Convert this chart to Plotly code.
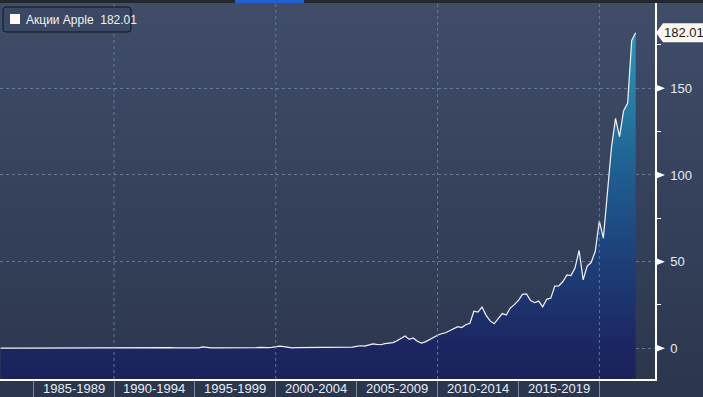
import base64
import pandas as pd
import plotly.graph_objects as go

# ---------------- data ----------------
SERIES_NAME = "Акции Apple"
START_QUARTER_END = "1982-12-31"
prices = [
    0.11,
    0.19, 0.26, 0.13, 0.12,   # 1983
    0.12, 0.11, 0.12, 0.13,   # 1984
    0.11, 0.08, 0.07, 0.10,   # 1985
    0.11, 0.15, 0.16, 0.18,   # 1986
    0.28, 0.37, 0.51, 0.37,   # 1987
    0.39, 0.42, 0.36, 0.36,   # 1988
    0.31, 0.37, 0.41, 0.31,   # 1989
    0.36, 0.38, 0.26, 0.38,   # 1990
    0.56, 0.43, 0.42, 0.50,   # 1991
    0.57, 0.49, 0.40, 0.53,   # 1992
    0.50, 0.37, 0.22, 0.26,   # 1993
    0.32, 0.24, 0.31, 0.35,   # 1994
    0.31, 0.80, 0.33, 0.28,   # 1995
    0.22, 0.19, 0.20, 0.19,   # 1996
    0.16, 0.13, 0.19, 0.12,   # 1997
    0.24, 0.26, 0.34, 0.60,   # 1998
    0.32, 0.41, 0.59, 0.92,   # 1999
    1.21, 0.94, 0.46, 0.27,   # 2000
    0.39, 0.42, 0.28, 0.39,   # 2001
    0.42, 0.32, 0.26, 0.26,   # 2002
    0.25, 0.34, 0.37, 0.38,   # 2003
    0.48, 0.58, 0.69, 1.15,   # 2004
    1.49, 1.31, 1.91, 2.57,   # 2005
    2.24, 2.05, 2.75, 3.03,   # 2006
    3.32, 4.36, 5.48, 7.07,   # 2007
    5.13, 5.98, 4.06, 3.05,   # 2008
    3.75, 5.09, 6.62, 7.53,   # 2009
    8.39, 8.98, 10.13, 11.52,  # 2010
    12.45, 11.99, 13.62, 14.46,  # 2011
    21.41, 20.86, 23.83, 19.01,  # 2012
    15.81, 14.16, 17.03, 20.04,  # 2013
    19.17, 23.23, 25.19, 27.59,  # 2014
    31.11, 31.36, 27.58, 26.32,  # 2015
    27.25, 23.90, 28.26, 28.96,  # 2016
    35.92, 36.01, 38.53, 42.31,  # 2017
    41.95, 46.28, 56.44, 39.44,  # 2018
    47.49, 49.48, 55.99, 73.41,  # 2019
    63.57, 91.20, 115.81, 132.69,  # 2020
    122.15, 136.96, 141.50, 177.57,  # 2021
    182.01,                    # 2022
]
period_labels = ["1985-1989", "1990-1994", "1995-1999", "2000-2004",
                 "2005-2009", "2010-2014", "2015-2019"]
period_starts = ["1985-01-01", "1990-01-01", "1995-01-01", "2000-01-01",
                 "2005-01-01", "2010-01-01", "2015-01-01", "2020-01-01"]
grid_dates = ["1990-01-01", "2000-01-01", "2010-01-01", "2020-01-01"]
y_ticks = [0, 50, 100, 150]
X_RANGE = ["1982-12-15", "2023-06-10"]
Y_RANGE = [-17.7, 199.2]

# ---------------- derived ----------------
try:
    dates = pd.date_range(START_QUARTER_END, periods=len(prices), freq="QE")
except Exception:
    dates = pd.date_range(START_QUARTER_END, periods=len(prices), freq="Q")
ps = pd.to_datetime(period_starts)
period_mids = [ps[i] + (ps[i + 1] - ps[i]) / 2 for i in range(len(period_labels))]
last_val = prices[-1]

W, H = 703, 397
ML, MR, MT, MB = 0, 48, 3, 18
PW, PH = W - ML - MR, H - MT - MB

TEXT = "#e6ecf4"
GRID = "rgba(115,135,165,0.8)"
FONT = "Liberation Sans, Arial, sans-serif"

fig = go.Figure()
fig.add_trace(go.Scatter(x=dates, y=[Y_RANGE[0]] * len(dates), mode="lines",
                         line=dict(width=0), hoverinfo="skip", showlegend=False))
fig.add_trace(go.Scatter(
    x=dates, y=prices, mode="lines", name=SERIES_NAME,
    line=dict(color="#f4f4f4", width=1.2),
    fill="tonexty",
    fillgradient=dict(type="vertical", start=Y_RANGE[0], stop=max(prices),
                      colorscale=[[0.0, "#1b215a"], [0.09, "#1c2661"],
                                  [0.34, "#1d3f79"], [0.59, "#1f5d90"],
                                  [0.84, "#2583a8"], [1.0, "#2a98b8"]]),
    showlegend=False,
))

# background gradient (svg)
svg = ('<svg xmlns="http://www.w3.org/2000/svg" width="100" height="100" preserveAspectRatio="none">'
       '<defs><linearGradient id="g" x1="0" y1="0" x2="0" y2="1">'
       '<stop offset="0" stop-color="#404d69"/><stop offset="1" stop-color="#2b364d"/>'
       '</linearGradient></defs><rect width="100" height="100" fill="url(#g)"/></svg>')
src = "data:image/svg+xml;base64," + base64.b64encode(svg.encode()).decode()

shapes = []
# top strip highlight
shapes.append(dict(type="rect", xref="paper", yref="paper", xsizemode="pixel", ysizemode="pixel",
                   xanchor=0, yanchor=1, x0=235, x1=304, y0=0, y1=MT,
                   fillcolor="#1f5fd0", line=dict(width=0), layer="above"))
# vertical grid
for d in grid_dates:
    shapes.append(dict(type="line", xref="x", yref="paper", x0=d, x1=d, y0=0, y1=1,
                       line=dict(color=GRID, width=1, dash="3px,3px"), layer="above"))
# tick triangles
for t in y_ticks:
    shapes.append(dict(type="path", xref="paper", yref="y", xsizemode="pixel", ysizemode="pixel",
                       xanchor=1, yanchor=t, path="M0,4 L10,0 L0,-4 Z",
                       fillcolor="#ffffff", line=dict(width=0), layer="above"))
# last value callout
shapes.append(dict(type="path", xref="paper", yref="y", xsizemode="pixel", ysizemode="pixel",
                   xanchor=1, yanchor=last_val, path="M1,0 L8,9.5 L49,9.5 L49,-9.5 L8,-9.5 Z",
                   fillcolor="#fdf5ee", line=dict(width=0), layer="above"))
# legend box
shapes.append(dict(type="path", xref="paper", yref="paper", xsizemode="pixel", ysizemode="pixel",
                   xanchor=0, yanchor=1,
                   path="M6,-4 L128,-4 Q131,-4 131,-7 L131,-26 Q131,-29 128,-29 L6,-29 Q3,-29 3,-26 L3,-7 Q3,-4 6,-4 Z",
                   fillcolor="#3b4864", line=dict(color="#10151f", width=1), layer="above"))
shapes.append(dict(type="rect", xref="paper", yref="paper", xsizemode="pixel", ysizemode="pixel",
                   xanchor=0, yanchor=1, x0=10, x1=20, y0=-21, y1=-11,
                   fillcolor="#fff8f4", line=dict(width=0), layer="above"))

annotations = [
    dict(xref="paper", yref="paper", x=0, y=1, xanchor="left", yanchor="middle",
         xshift=24, yshift=-16.5, showarrow=False,
         text=f"{SERIES_NAME}&nbsp;&nbsp;{last_val:.2f}",
         font=dict(family=FONT, size=12, color="#f2f2f2")),
    dict(xref="paper", yref="y", x=1, y=last_val, xanchor="left", yanchor="middle",
         xshift=7, showarrow=False, text=f"{last_val:.2f}",
         font=dict(family=FONT, size=13, color="#1a1a1a")),
]
for m, lab in zip(period_mids, period_labels):
    annotations.append(dict(xref="x", yref="paper", x=m, y=0, xanchor="center",
                            yanchor="middle", yshift=-MB / 2 - 0.5, showarrow=False,
                            text=lab, font=dict(family=FONT, size=13, color=TEXT)))

fig.update_layout(
    width=W, height=H,
    margin=dict(l=ML, r=MR, t=MT, b=MB, pad=0, autoexpand=False),
    paper_bgcolor="#23272e",
    plot_bgcolor="rgba(0,0,0,0)",
    images=[dict(source=src, xref="paper", yref="paper", x=0, y=1,
                 sizex=W / PW, sizey=(H - MT) / PH, xanchor="left", yanchor="top",
                 sizing="stretch", layer="below")],
    shapes=shapes,
    annotations=annotations,
    showlegend=False,
    xaxis=dict(
        type="date", range=X_RANGE, showgrid=False, zeroline=False, automargin=False,
        showline=True, linecolor="#ffffff", linewidth=1.5,
        showticklabels=False, ticks="",
        minor=dict(tickmode="array", tickvals=period_starts, ticks="outside",
                   ticklen=MB, tickcolor="#7d8aa0", tickwidth=1, showgrid=False),
    ),
    yaxis=dict(
        side="right", range=Y_RANGE, tickmode="array", tickvals=y_ticks,
        showgrid=True, gridcolor=GRID, griddash="3px,3px", gridwidth=1, automargin=False,
        zeroline=False, showline=True, linecolor="#ffffff", linewidth=1.5,
        ticks="outside", ticklen=11, tickcolor="rgba(0,0,0,0)",
        tickfont=dict(family=FONT, size=13, color=TEXT),
        minor=dict(dtick=25, tick0=0, ticks="outside", ticklen=4,
                   tickcolor="#ffffff", tickwidth=1, showgrid=False),
    ),
)

fig.write_html(
    "out.html",
    config={"displayModeBar": False},
    post_script="document.body.style.margin='0';document.body.style.padding='0';"
                "document.body.style.overflow='hidden';",
)
